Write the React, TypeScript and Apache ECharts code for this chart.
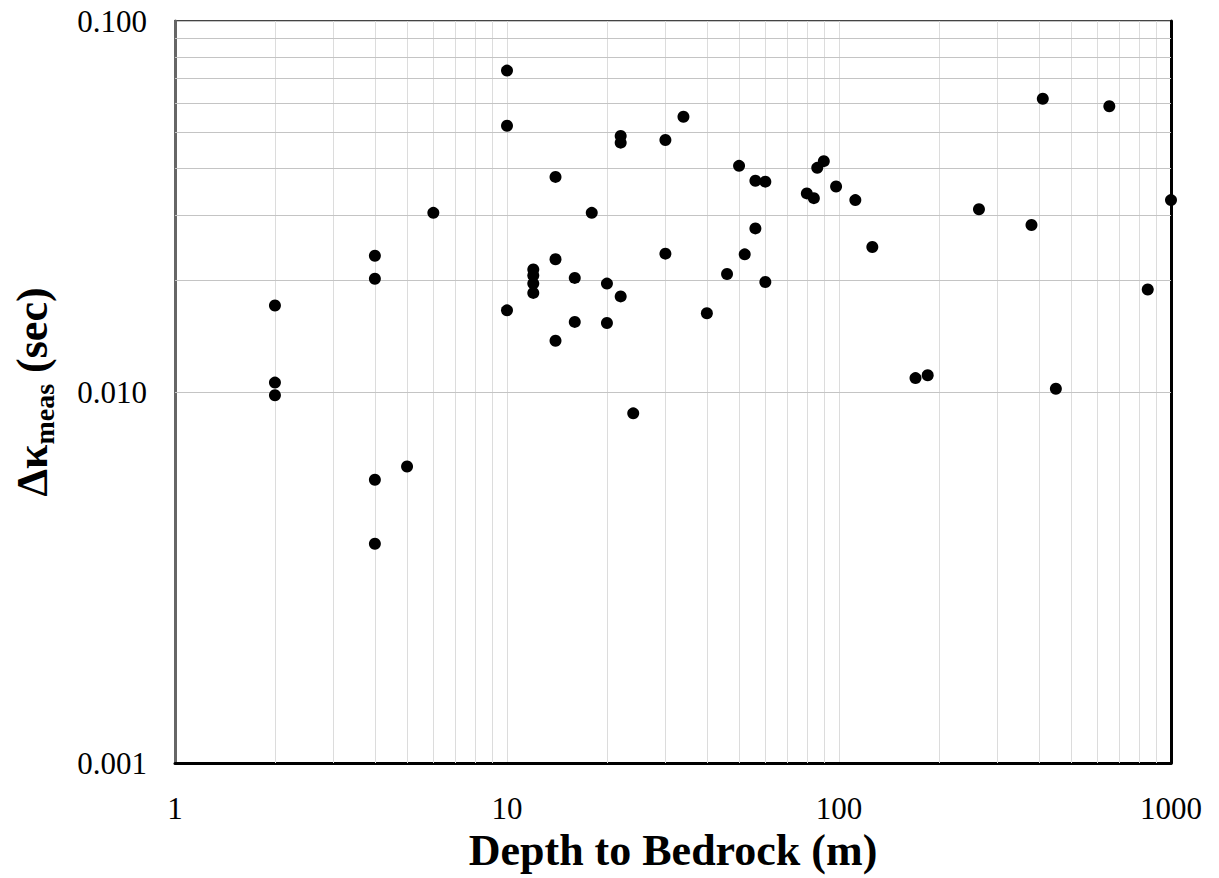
import React, { useEffect, useRef } from "react";
import * as echarts from "echarts";

const depth = [
  2, 2, 2,
  4, 4, 4, 4,
  5, 6,
  10, 10, 10,
  12, 12, 12, 12,
  14, 14, 14,
  16, 16, 18,
  20, 20,
  22, 22, 22,
  24, 30, 30, 34, 40, 46, 50, 52,
  56, 56, 60, 60,
  80, 84, 86, 90, 98, 112, 126,
  170, 185, 264, 380, 411, 450, 652, 851, 1000,
];
const kappa = [
  0.0171, 0.0106, 0.0098,
  0.0233, 0.0202, 0.0058, 0.0039,
  0.0063, 0.0304,
  0.0735, 0.0522, 0.0166,
  0.0214, 0.0206, 0.0196, 0.0185,
  0.038, 0.0228, 0.01375,
  0.0203, 0.01545, 0.0304,
  0.0196, 0.01535,
  0.049, 0.047, 0.0181,
  0.00876, 0.0478, 0.0236, 0.0552, 0.0163, 0.0208, 0.0407, 0.0235,
  0.0371, 0.0276, 0.0369, 0.0198,
  0.0343, 0.0333, 0.0402, 0.0419, 0.0358, 0.0329, 0.0246,
  0.0109, 0.0111, 0.0311, 0.0282, 0.0617, 0.0102, 0.0589, 0.0189, 0.0329,
];

const xMinorTicks = [2, 3, 4, 5, 6, 7, 8, 9, 20, 30, 40, 50, 60, 70, 80, 90, 200, 300, 400, 500, 600, 700, 800, 900];
const yMinorTicks = [0.002, 0.003, 0.004, 0.005, 0.006, 0.007, 0.008, 0.009, 0.02, 0.03, 0.04, 0.05, 0.06, 0.07, 0.08, 0.09];

const FONT = "'Liberation Serif', 'Times New Roman', serif";

export default function App() {
  const ref = useRef<HTMLDivElement>(null);
  useEffect(() => {
    if (!ref.current) return;
    const chart = echarts.init(ref.current, undefined, { renderer: "svg" });
    const points = depth.map((d, i) => [d, kappa[i]]);
    chart.setOption({
      animation: false,
      backgroundColor: "#ffffff",
      grid: {
        left: 175,
        top: 21,
        right: 48,
        bottom: 115,
        show: true,
        borderColor: "#444",
        borderWidth: 2,
      },
      xAxis: {
        type: "log",
        logBase: 10,
        min: 1,
        max: 1000,
        name: "Depth to Bedrock (m)",
        nameLocation: "middle",
        nameGap: 30,
        nameTextStyle: { fontFamily: FONT, fontSize: 44, fontWeight: "bold", color: "#000" },
        axisLine: { show: true, onZero: false, lineStyle: { color: "#000", width: 3 } },
        axisTick: { show: false },
        axisLabel: { fontFamily: FONT, fontSize: 31, color: "#000", margin: 30, formatter: (v: number) => String(v) },
        splitLine: { show: true, lineStyle: { color: "#dcdcdc", width: 1 } },
      },
      yAxis: [
        {
          type: "log",
          logBase: 10,
          min: 0.001,
          max: 0.1,
          name: "{a|Δκ}{b|meas}{a| (sec)}",
          nameLocation: "middle",
          nameGap: 117,
          nameTextStyle: {
            fontFamily: FONT,
            color: "#000",
            rich: {
              a: { fontFamily: FONT, fontSize: 44, fontWeight: "bold", color: "#000", lineHeight: 52, verticalAlign: "middle" },
              b: { fontFamily: FONT, fontSize: 28, fontWeight: "bold", color: "#000", lineHeight: 52, verticalAlign: "bottom", padding: [22, 0, 0, 0] },
            },
          },
          axisLine: { show: true, onZero: false, lineStyle: { color: "#666", width: 3 } },
          axisTick: { show: false },
          axisLabel: {
            fontFamily: FONT,
            fontSize: 31,
            color: "#000",
            margin: 28,
            formatter: (v: number) => v.toFixed(3),
          },
          splitLine: { show: true, lineStyle: { color: "#c4c4c4", width: 1 } },
        },
        {
          type: "log",
          logBase: 10,
          min: 0.001,
          max: 0.1,
          position: "right",
          axisLine: { show: true, onZero: false, lineStyle: { color: "#000", width: 3 } },
          axisTick: { show: false },
          axisLabel: { show: false },
          splitLine: { show: false },
        },
      ],
      series: [
        {
          type: "scatter",
          data: [],
          z: 1,
          silent: true,
          markLine: {
            silent: true,
            symbol: "none",
            animation: false,
            label: { show: false },
            data: [
              ...xMinorTicks.map((v) => ({ xAxis: v, lineStyle: { color: "#dcdcdc", width: 1, type: "solid" } })),
              ...yMinorTicks.map((v) => ({ yAxis: v, lineStyle: { color: "#c4c4c4", width: 1, type: "solid" } })),
            ],
          },
        },
        {
          type: "scatter",
          data: points,
          z: 5,
          symbol: "circle",
          symbolSize: 12,
          itemStyle: { color: "#000", opacity: 1 },
        },
      ],
    });
    return () => chart.dispose();
  }, []);
  return <div ref={ref} style={{ position: "fixed", left: 0, top: 0, width: 1219, height: 878 }} />;
}
